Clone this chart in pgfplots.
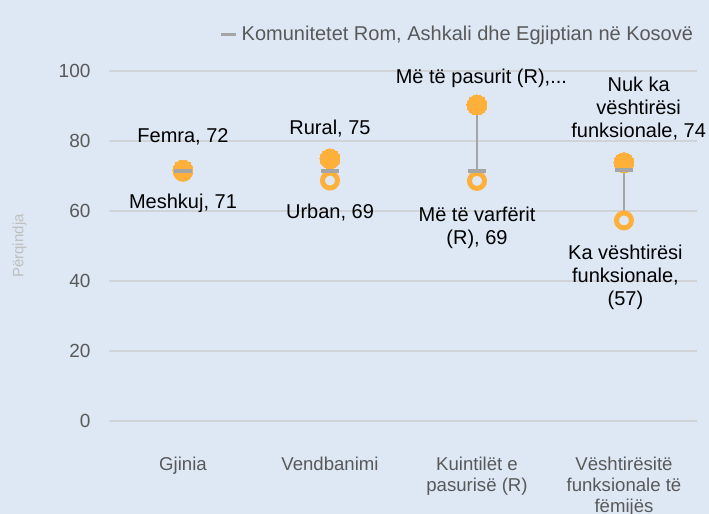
\documentclass[border=0pt]{standalone}
\usepackage{fontspec}
\setmainfont{Liberation Sans}
\usepackage{pgfplots}
\pgfplotsset{compat=1.18}
\usetikzlibrary{backgrounds}
\definecolor{bgblue}{HTML}{DDE8F4}
\definecolor{orng}{HTML}{FFB03B}
\definecolor{dashgray}{HTML}{A5A5A5}
\definecolor{gridgray}{HTML}{D0D3D8}
\definecolor{ticktext}{HTML}{595959}
\definecolor{ylab}{HTML}{BFBFBF}
\newcommand{\lbl}{\fontsize{10}{11.5}\selectfont}

\begin{document}
\begin{tikzpicture}
\begin{axis}[
    at={(0,0)}, anchor=south west,
    scale only axis, width=294pt, height=175pt,
    xmin=-0.5, xmax=3.5, ymin=0, ymax=100,
    xtick={0,1,2,3},
    xticklabels={Gjinia, Vendbanimi, {Kuintilët e\\pasurisë (R)}, {Vështirësitë\\funksionale të\\fëmijës}},
    ytick={0,20,...,100},
    ymajorgrids, grid style={gridgray, line width=0.6pt},
    axis line style={draw=none}, major tick length=0pt,
    /pgf/number format/assume math mode=true,
    tick label style={font=\fontsize{9.5}{11}\selectfont, text=ticktext},
    xticklabel style={align=center, yshift=-14.5pt, font=\fontsize{9.3}{10.6}\selectfont},
    yticklabel style={xshift=-6pt},
    ylabel={Përqindja},
    every axis y label/.style={at={(axis description cs:-0.153,0.5)}, rotate=90, anchor=center,
        font=\fontsize{7.5}{9}\selectfont, text=ylab},
    clip=false,
    legend style={at={(rel axis cs:1,1)}, anchor=east, yshift=18pt, draw=none, fill=none,
        inner sep=0pt, font=\fontsize{10}{12}\selectfont, text=ticktext},
]
% high-low connectors
\addplot[dashgray, line width=0.6pt, forget plot] coordinates {(0,71.2) (0,71.7)};
\addplot[dashgray, line width=0.6pt, forget plot] coordinates {(1,68.7) (1,74.9)};
\addplot[dashgray, line width=0.6pt, forget plot] coordinates {(2,68.6) (2,90.3)};
\addplot[dashgray, line width=0.6pt, forget plot] coordinates {(3,57.3) (3,73.8)};
% lower group (hollow)
\addplot[only marks, orng, mark=*, mark size=3.75pt, mark options={draw=orng, fill=bgblue, line width=2.5pt}, forget plot]
    coordinates {(0,71.2) (1,68.7) (2,68.6) (3,57.3)};
% upper group (filled)
\addplot[only marks, orng, mark=*, mark size=5pt, mark options={draw=orng, fill=orng, line width=0pt}, forget plot]
    coordinates {(0,71.7) (1,74.9) (2,90.3) (3,73.8)};
% national value
\addplot[only marks, dashgray, mark=-, mark size=4.5pt, mark options={dashgray, line width=2pt},
    legend image code/.code={\draw[dashgray, line width=1.5pt] (0pt,0pt) -- (7.5pt,0pt);}]
    coordinates {(0,71.4) (1,71.5) (2,71.5) (3,71.6)};
\addlegendentry{Komunitetet Rom, Ashkali dhe Egjiptian në Kosovë}

\node[font=\lbl, align=center] at (axis cs:0,81.1) {Femra, 72};
\node[font=\lbl, align=center] at (axis cs:0,62.3) {Meshkuj, 71};
\node[font=\lbl, align=center] at (axis cs:1,83.7) {Rural, 75};
\node[font=\lbl, align=center] at (axis cs:1,59.7) {Urban, 69};
\node[font=\lbl, align=center] at (axis cs:2.03,98) {Më të pasurit (R),...};
\node[font=\lbl, align=center] at (axis cs:2,55.3) {Më të varfërit\\(R), 69};
\node[font=\lbl, align=center] at (axis cs:3.1,89.4) {Nuk ka\\vështirësi\\funksionale, 74};
\node[font=\lbl, align=center] at (axis cs:3.01,41.1) {Ka vështirësi\\funksionale,\\(57)};
\end{axis}
\begin{pgfonlayer}{background}
\fill[bgblue] (-54.75pt,-46.5pt) rectangle (299.75pt,210.5pt);
\end{pgfonlayer}
\pgfresetboundingbox
\useasboundingbox (-54.75pt,-46.5pt) rectangle (299.75pt,210.5pt);
\end{tikzpicture}
\end{document}
